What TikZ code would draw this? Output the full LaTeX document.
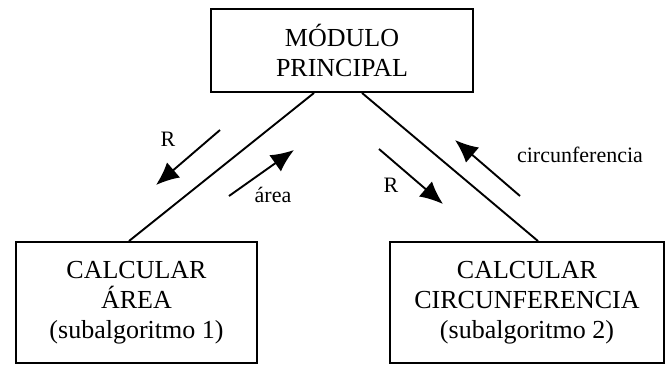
\documentclass[tikz,border=0pt]{standalone}
\usepackage{fontspec}
\setmainfont{Liberation Serif}
\usetikzlibrary{arrows.meta}

\begin{document}
\begin{tikzpicture}[x=1pt,y=-1pt,line width=1.9pt,
    modulo/.style={draw,align=center,inner sep=0pt,font=\fontsize{26}{30}\selectfont},
    flecha/.style={-{Latex[length=23pt,width=20pt]}},
    dato/.style={anchor=base,inner sep=0pt,font=\fontsize{22}{26}\selectfont}]
  \useasboundingbox (0,0) rectangle (665,365);
  % modulos
  \node[modulo,minimum width=262pt,minimum height=83pt] (princ) at (342,50.5) {MÓDULO\\PRINCIPAL};
  \node[modulo,minimum width=241pt,minimum height=121pt] (area) at (136.5,302.5) {CALCULAR\\ÁREA\\(subalgoritmo 1)};
  \node[modulo,minimum width=274pt,minimum height=121pt] (circ) at (527,302.5) {CALCULAR\\CIRCUNFERENCIA\\(subalgoritmo 2)};
  % enlaces
  \draw ([xshift=-28pt]princ.south) -- ([xshift=-7.5pt]area.north);
  \draw ([xshift=20pt]princ.south) -- ([xshift=11pt]circ.north);
  % parametros
  \coordinate (r1a) at (220,130); \coordinate (r1b) at (156,185);
  \coordinate (a1a) at (229,196); \coordinate (a1b) at (294,150);
  \coordinate (r2a) at (379,149); \coordinate (r2b) at (443,204);
  \coordinate (c2a) at (520,196); \coordinate (c2b) at (455,140);
  \draw[flecha] (r1a) -- (r1b);
  \draw[flecha] (a1a) -- (a1b);
  \draw[flecha] (r2a) -- (r2b);
  \draw[flecha] (c2a) -- (c2b);
  \node[dato] (lr1) at (168,146) {R};
  \node[dato] (la1) at (273,202) {área};
  \node[dato] (lr2) at (391,192) {R};
  \node[dato] (lc2) at (580,162) {circunferencia};
\end{tikzpicture}
\end{document}
